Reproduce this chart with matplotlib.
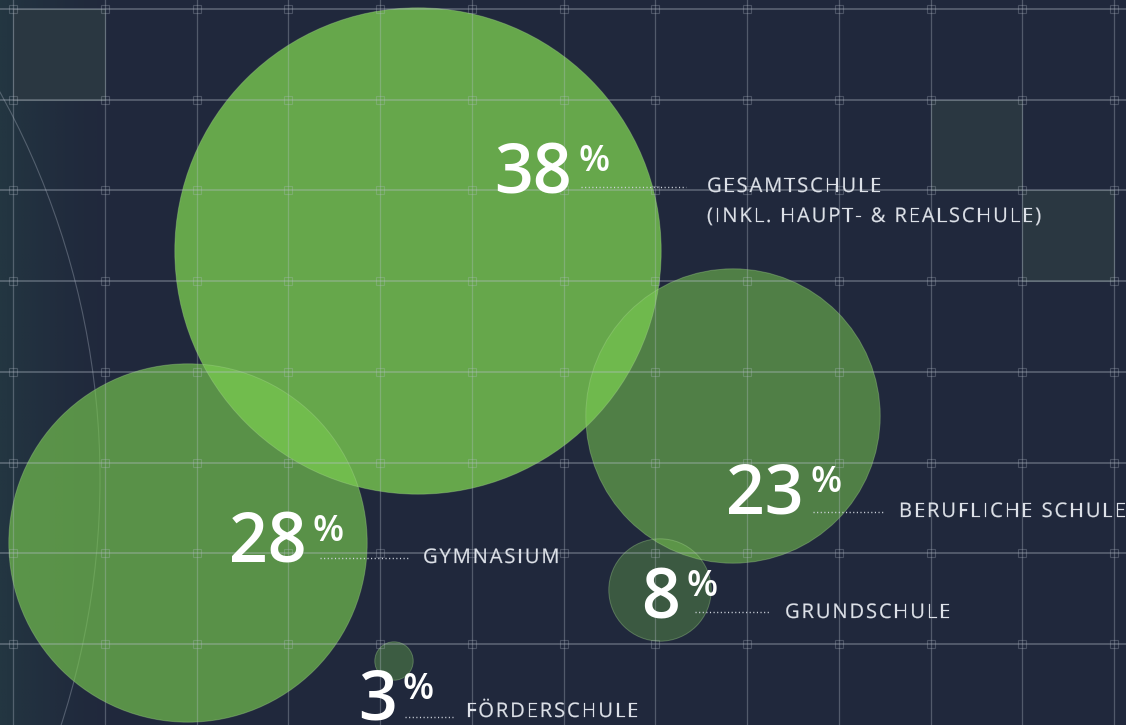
import numpy as np
import matplotlib
matplotlib.use('Agg')
import matplotlib.pyplot as plt
from matplotlib.patches import Circle, Rectangle, PathPatch
from matplotlib.textpath import TextPath
from matplotlib.transforms import Affine2D
from matplotlib import font_manager
from matplotlib.ft2font import FT2Font

# ---------------- data ----------------
values = [38, 28, 23, 8, 3]
value_labels = ['38', '28', '23', '8', '3']
categories = [
    ['GESAMTSCHULE', '(INKL. HAUPT- & REALSCHULE)'],
    ['GYMNASIUM'],
    ['BERUFLICHE SCHULE'],
    ['GRUNDSCHULE'],
    ['FÖRDERSCHULE'],
]

# ---------------- layout / style ----------------
W, H = 1126, 725
BG = '#20283c'
BUBBLE = '#78c84f'
bubble_alpha = [0.80, 0.66, 0.55, 0.31, 0.33]
centers = [(418, 251), (188, 543), (733, 416), (660, 590), (394, 661)]
px_per_point = 6.4
# number right edge x, number baseline y
num_anchor = [(572, 192), (307, 562), (804, 513), (680, 617), (397, 720)]
leader = [(581, 686, 187), (320, 408, 558), (813, 884, 512), (695, 770, 612), (405, 453, 717)]
label_anchor = [(707, 192), (423, 563), (899, 517), (785, 618), (466, 717)]

fig = plt.figure(figsize=(W / 100, H / 100), dpi=100)
fig.patch.set_facecolor(BG)
ax = fig.add_axes([0, 0, 1, 1])
ax.set_xlim(0, W)
ax.set_ylim(H, 0)
ax.set_facecolor(BG)
ax.axis('off')

# left vignette
grad = np.zeros((10, 200, 4))
xs = np.linspace(0, 1, 200)
grad[..., 0] = 38 / 255
grad[..., 1] = 66 / 255
grad[..., 2] = 70 / 255
grad[..., 3] = (np.clip(1 - xs, 0, 1) ** 1.6 * 0.55)[None, :]
ax.imshow(grad, extent=[0, 120, H, 0], aspect='auto', zorder=0.5, interpolation='bilinear')

# grid geometry
gx = [13 + 91.75 * k for k in range(13)]
gy = [9 + 90.7 * k for k in range(9)]

# filled cells
cells = [(0, 0), (10, 1), (11, 2)]
for (i, j) in cells:
    ax.add_patch(Rectangle((gx[i], gy[j]), gx[i + 1] - gx[i], gy[j + 1] - gy[j],
                           facecolor='#2a3741', edgecolor='#3d4b55', lw=0.8, zorder=1))

# big faint arc
ax.add_patch(Circle((-698, 479), 798, fill=False, ec='#b0b8c6', alpha=0.35, lw=0.8, zorder=1.5))

# bubbles
for v, c, a in zip(values, centers, bubble_alpha):
    ax.add_patch(Circle(c, v * px_per_point, facecolor=BUBBLE, alpha=a, edgecolor='none', zorder=2))
    ax.add_patch(Circle(c, v * px_per_point, fill=False, edgecolor='#a8d890', alpha=0.35, lw=0.7, zorder=2.1))

# grid lines
for x in gx:
    ax.plot([x, x], [0, H], color='#b8c0cc', alpha=0.33, lw=0.9, zorder=3)
for y in gy:
    ax.plot([0, W], [y, y], color='#b8c0cc', alpha=0.38, lw=1.2, zorder=3)
for x in gx:
    for y in gy:
        ax.add_patch(Rectangle((x - 4, y - 4), 8, 8, fill=False, ec='#b8c0cc', alpha=0.28, lw=0.8, zorder=3))

# letter-spaced labels drawn as glyph outlines at exact pen positions
LABEL_FAMILY = 'Open Sans'
LABEL_WEIGHT = 'normal'
lab_prop = font_manager.FontProperties(family=LABEL_FAMILY, weight=LABEL_WEIGHT)
lab_ft = FT2Font(font_manager.findfont(lab_prop))


def spaced_text(x, y, s, size_pt, tracking, color):
    px = size_pt * 100 / 72
    lab_ft.set_size(size_pt, 100)
    cx = 0.0
    for ch in s:
        if ch != ' ':
            tp = TextPath((cx, 0), ch, size=px, prop=lab_prop)
            path = Affine2D().scale(1, -1).translate(x, y).transform_path(tp)
            ax.add_patch(PathPatch(path, facecolor=color, edgecolor=color, lw=0.15, zorder=5))
        g = lab_ft.load_char(ord(ch))
        cx += g.linearHoriAdvance / 65536 + tracking


NUM_FAMILY = 'Open Sans'
for lbl, (nx, ny), (lx0, lx1, ly), (tx, ty), cat in zip(value_labels, num_anchor, leader, label_anchor, categories):
    ax.text(nx, ny, lbl, fontsize=49, family=NUM_FAMILY, weight='semibold', color='white',
            ha='right', va='baseline', zorder=5)
    ax.text(nx + 6, ny - 21, '%', fontsize=26, family=NUM_FAMILY, weight='semibold', color='white',
            ha='left', va='baseline', zorder=5)
    ax.plot([lx0, lx1], [ly, ly], color='#d0d5de', lw=1.0, linestyle=(0, (0.8, 1.8)), zorder=5)
    for k, line in enumerate(cat):
        spaced_text(tx, ty + 30 * k, line, 14.5, 1.9, '#dde1e8')

fig.savefig('out.png', dpi=100, facecolor=BG)
